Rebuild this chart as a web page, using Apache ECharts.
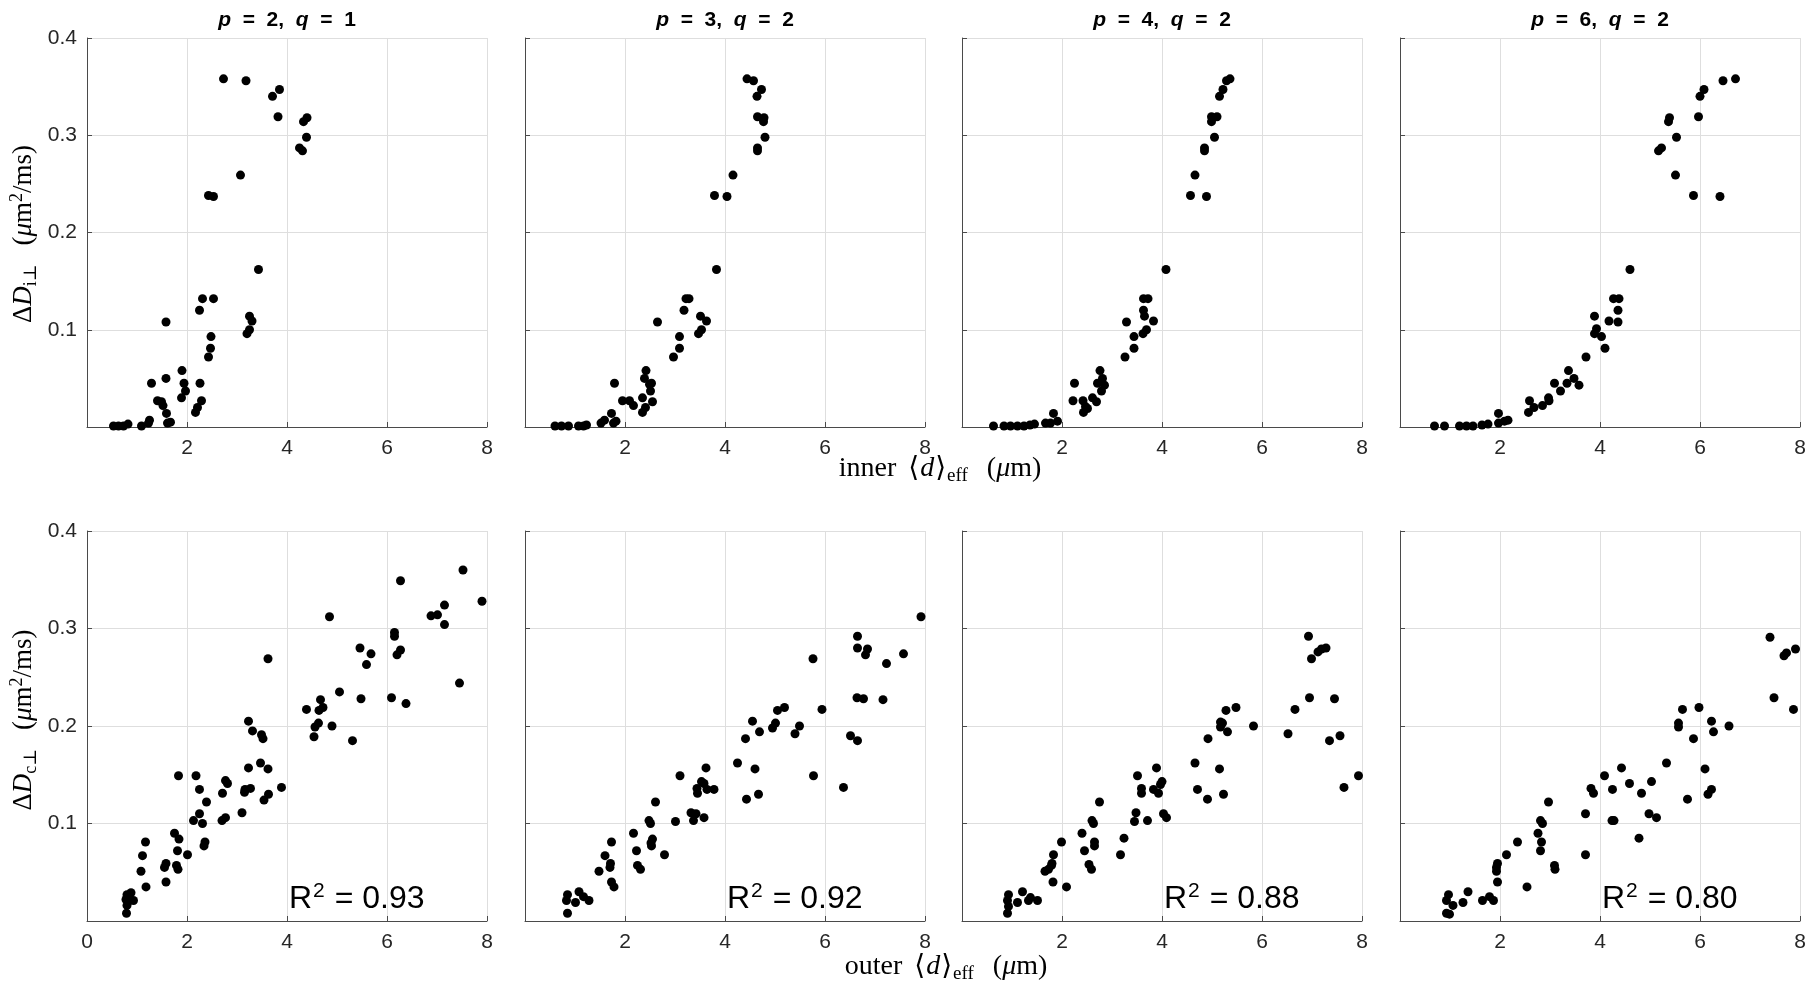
<!DOCTYPE html>
<html>
<head>
<meta charset="utf-8">
<script src="https://cdn.jsdelivr.net/npm/echarts@6/dist/echarts.min.js"></script>
<style>
  html, body { margin: 0; padding: 0; background: #fff; }
  #chart { width: 1810px; height: 995px; }
</style>
</head>
<body>
<div id="chart"></div>
<script>
// ---------- data ----------
const pValues = [2, 3, 4, 6];
const qValues = [1, 2, 2, 2];
const r2Values = ['0.93', '0.92', '0.88', '0.80'];
const xTicks = [0, 2, 4, 6, 8];
const yTicks = [0, 0.1, 0.2, 0.3, 0.4];

// top row: inner <d>_eff vs ΔD_i⊥
const innerX_p2q1 = [2.73,3.18,3.71,3.85,3.82,4.33,4.40,4.39,4.25,4.31,3.07,2.43,2.53,3.43,2.31,2.53,2.25,1.58,3.25,3.30,3.25,3.20,2.48,2.47,2.43,1.90,1.58,1.29,1.94,2.26,1.97,1.89,1.41,1.49,1.52,2.29,2.21,2.17,1.59,1.61,1.67,1.25,1.23,1.09,0.82,0.73,0.63,0.53];
const innerY_p2q1 = [0.358,0.356,0.340,0.347,0.319,0.314,0.318,0.298,0.287,0.284,0.259,0.238,0.237,0.162,0.132,0.132,0.120,0.108,0.114,0.109,0.100,0.096,0.093,0.081,0.072,0.058,0.050,0.045,0.045,0.045,0.037,0.030,0.027,0.026,0.022,0.027,0.020,0.015,0.014,0.004,0.005,0.007,0.004,0.001,0.003,0.001,0.001,0.001];

const innerX_p3q2 = [4.44,4.57,4.73,4.64,4.65,4.78,4.77,4.80,4.65,4.65,4.16,3.79,4.04,3.83,3.22,3.28,3.18,2.65,3.51,3.63,3.53,3.47,3.09,3.09,2.97,2.42,2.39,1.79,2.53,2.49,2.51,2.35,1.95,2.09,2.17,2.55,2.41,2.35,1.73,1.82,1.77,1.59,1.52,1.23,1.17,1.07,0.87,0.73,0.60];
const innerY_p3q2 = [0.358,0.356,0.347,0.340,0.319,0.318,0.314,0.298,0.287,0.284,0.259,0.238,0.237,0.162,0.132,0.132,0.120,0.108,0.114,0.109,0.100,0.096,0.093,0.081,0.072,0.058,0.050,0.045,0.045,0.044,0.037,0.030,0.027,0.027,0.022,0.026,0.020,0.015,0.014,0.006,0.004,0.007,0.004,0.002,0.001,0.001,0.001,0.001,0.001];

const innerX_p4q2 = [5.36,5.29,5.22,5.15,4.99,5.10,4.99,5.05,4.85,4.85,4.66,4.57,4.89,4.08,3.63,3.72,3.63,3.29,3.65,3.83,3.69,3.62,3.44,3.44,3.26,2.76,2.81,2.25,2.71,2.85,2.79,2.61,2.22,2.42,2.47,2.69,2.51,2.43,1.83,1.91,1.77,1.67,1.45,1.36,1.24,1.11,0.97,0.84,0.63];
const innerY_p4q2 = [0.358,0.356,0.347,0.340,0.319,0.319,0.314,0.298,0.287,0.284,0.259,0.238,0.237,0.162,0.132,0.132,0.120,0.108,0.114,0.109,0.100,0.096,0.093,0.081,0.072,0.058,0.050,0.045,0.045,0.043,0.037,0.030,0.027,0.027,0.021,0.026,0.019,0.015,0.014,0.006,0.004,0.004,0.003,0.002,0.001,0.001,0.001,0.001,0.001];

const innerX_p6q2 = [6.71,6.46,6.08,6.00,5.97,5.39,5.37,5.53,5.23,5.17,5.51,5.87,6.40,4.60,4.27,4.38,4.36,4.18,3.89,4.36,3.93,3.89,4.03,4.10,3.72,3.37,3.48,3.09,3.34,3.58,3.21,2.97,2.59,2.98,2.85,2.68,2.57,1.97,2.16,2.09,1.97,1.76,1.64,1.46,1.33,1.19,0.89,0.69];
const innerY_p6q2 = [0.358,0.356,0.347,0.340,0.319,0.318,0.314,0.298,0.287,0.284,0.259,0.238,0.237,0.162,0.132,0.132,0.120,0.109,0.114,0.108,0.101,0.096,0.093,0.081,0.072,0.058,0.050,0.045,0.045,0.043,0.037,0.030,0.027,0.027,0.022,0.020,0.015,0.014,0.007,0.006,0.004,0.003,0.002,0.001,0.001,0.001,0.001,0.001];

// bottom row: outer <d>_eff vs ΔD_c⊥
const outerX_p2q1 = [7.52,6.27,7.90,7.15,6.88,7.01,7.15,4.85,6.15,6.15,5.46,5.68,5.59,6.27,6.20,3.62,7.45,5.05,5.48,6.09,6.38,4.39,4.67,4.64,4.72,4.63,4.56,4.90,4.54,5.31,3.23,3.31,3.49,3.52,3.47,3.23,3.62,1.83,2.18,2.77,2.81,2.25,3.89,3.27,3.16,3.15,2.71,3.63,3.54,2.39,3.10,2.25,2.77,2.70,2.13,2.31,1.75,1.84,1.17,2.36,2.34,1.11,1.81,2.01,1.58,1.55,1.79,1.82,1.08,1.58,1.18,0.88,0.80,0.93,0.85,0.78,0.80,0.79];
const outerY_p2q1 = [0.360,0.349,0.328,0.324,0.313,0.314,0.304,0.312,0.296,0.292,0.280,0.274,0.263,0.278,0.273,0.269,0.244,0.235,0.228,0.229,0.223,0.217,0.227,0.216,0.219,0.203,0.199,0.200,0.189,0.185,0.205,0.195,0.191,0.187,0.162,0.157,0.156,0.149,0.149,0.144,0.141,0.135,0.137,0.136,0.135,0.132,0.131,0.130,0.124,0.122,0.111,0.110,0.106,0.103,0.103,0.100,0.090,0.084,0.081,0.081,0.077,0.067,0.072,0.068,0.059,0.055,0.057,0.053,0.051,0.040,0.035,0.029,0.027,0.021,0.021,0.022,0.016,0.008];

const outerX_p3q2 = [7.92,6.65,6.65,6.85,6.81,7.57,7.23,5.76,6.64,6.77,7.16,5.94,5.19,5.05,4.55,5.01,4.95,5.49,4.69,5.40,4.41,6.51,6.65,4.25,4.60,5.77,6.37,4.43,4.67,3.10,3.62,3.53,3.58,3.44,3.45,3.64,3.78,2.61,3.32,3.42,3.58,3.37,3.01,2.48,2.51,2.17,2.55,2.52,2.53,1.73,2.23,2.79,1.60,1.71,1.70,2.25,2.31,1.48,1.73,1.78,1.08,0.85,1.17,1.28,1.01,0.83,0.85];
const outerY_p3q2 = [0.312,0.292,0.280,0.279,0.273,0.274,0.264,0.269,0.229,0.228,0.227,0.217,0.219,0.216,0.205,0.203,0.198,0.200,0.194,0.192,0.187,0.190,0.185,0.162,0.156,0.149,0.137,0.125,0.130,0.149,0.157,0.143,0.141,0.136,0.131,0.135,0.135,0.122,0.111,0.110,0.106,0.103,0.102,0.103,0.100,0.090,0.084,0.080,0.077,0.081,0.072,0.068,0.067,0.059,0.055,0.057,0.053,0.051,0.040,0.035,0.030,0.027,0.025,0.021,0.019,0.021,0.008];

const outerX_p4q2 = [6.93,6.99,7.12,7.19,7.28,6.95,7.45,6.66,5.28,5.48,5.17,5.21,5.17,5.31,5.83,6.52,7.56,7.35,4.92,4.66,5.15,7.93,7.64,4.71,4.91,5.23,3.89,3.51,4.00,3.97,3.59,3.59,3.83,3.93,2.75,3.48,4.03,4.09,3.45,3.71,2.60,2.63,2.40,2.65,2.65,1.99,2.45,3.24,3.17,1.83,1.80,1.79,1.73,1.66,2.54,2.59,1.82,2.09,1.21,0.93,1.11,0.91,1.37,1.51,1.33,0.91,0.93];
const outerY_p4q2 = [0.292,0.269,0.276,0.279,0.280,0.229,0.228,0.217,0.216,0.219,0.204,0.203,0.199,0.194,0.200,0.192,0.190,0.185,0.187,0.162,0.156,0.149,0.137,0.135,0.125,0.130,0.157,0.149,0.143,0.140,0.136,0.131,0.135,0.131,0.122,0.111,0.110,0.106,0.102,0.103,0.103,0.100,0.090,0.081,0.077,0.081,0.072,0.085,0.068,0.068,0.059,0.057,0.053,0.051,0.058,0.053,0.040,0.035,0.030,0.027,0.019,0.021,0.024,0.021,0.021,0.008,0.015];

const outerX_p6q2 = [7.40,7.68,7.73,7.91,7.48,7.87,5.65,5.98,5.57,5.57,6.23,6.27,6.58,5.87,5.33,4.43,4.09,4.59,5.03,6.10,6.23,6.16,5.75,4.83,3.82,3.87,4.25,3.71,4.98,5.13,4.24,4.28,4.78,2.97,2.81,2.85,2.76,2.83,2.81,2.35,2.13,3.71,1.95,1.93,1.93,1.95,3.09,3.10,2.54,1.36,0.97,1.06,0.93,1.26,1.65,1.79,1.87,0.93,0.99];
const outerY_p6q2 = [0.291,0.272,0.275,0.279,0.229,0.217,0.217,0.219,0.203,0.199,0.205,0.194,0.200,0.187,0.162,0.157,0.149,0.141,0.143,0.156,0.135,0.130,0.125,0.131,0.136,0.131,0.135,0.110,0.110,0.106,0.103,0.103,0.085,0.122,0.103,0.100,0.090,0.081,0.072,0.081,0.068,0.068,0.059,0.055,0.051,0.040,0.057,0.053,0.035,0.030,0.027,0.016,0.021,0.019,0.021,0.025,0.021,0.008,0.007];

// ---------- layout ----------
const innerXs = [innerX_p2q1, innerX_p3q2, innerX_p4q2, innerX_p6q2];
const innerYs = [innerY_p2q1, innerY_p3q2, innerY_p4q2, innerY_p6q2];
const outerXs = [outerX_p2q1, outerX_p3q2, outerX_p4q2, outerX_p6q2];
const outerYs = [outerY_p2q1, outerY_p3q2, outerY_p4q2, outerY_p6q2];

const gridLefts = [87, 525, 962, 1400];
const gridW = 400;
const rowTops = [38, 531];
const rowHeights = [389, 390];

const sansFont = '"Liberation Sans", Arial, Helvetica, sans-serif';
const serifFont = '"Liberation Serif", "DejaVu Serif", "Times New Roman", serif';
const axisColor = '#4a4a4a';
const textColor = '#262626';
const gridColor = '#dedede';

const zip = (xs, ys) => xs.map((x, i) => [x, ys[i]]);

const grids = [], xAxes = [], yAxes = [], series = [];
for (let row = 0; row < 2; row++) {
  for (let col = 0; col < 4; col++) {
    const idx = row * 4 + col;
    grids.push({ left: gridLefts[col], top: rowTops[row], width: gridW, height: rowHeights[row], containLabel: false });
    const showZeroX = (row === 1 && col === 0);
    xAxes.push({
      type: 'value', gridIndex: idx, min: xTicks[0], max: xTicks[xTicks.length - 1], interval: 2,
      axisLine: { show: true, onZero: false, lineStyle: { color: axisColor, width: 1 } },
      axisTick: { show: true, inside: true, length: 5, lineStyle: { color: axisColor } },
      axisLabel: {
        show: true, color: textColor, fontSize: 21, fontFamily: sansFont, margin: 11,
        formatter: v => (v === 0 && !showZeroX) ? '' : String(v)
      },
      splitLine: { show: true, lineStyle: { color: gridColor, width: 1 } }
    });
    yAxes.push({
      type: 'value', gridIndex: idx, min: yTicks[0], max: yTicks[yTicks.length - 1], interval: 0.1,
      axisLine: { show: true, onZero: false, lineStyle: { color: axisColor, width: 1 } },
      axisTick: { show: true, inside: true, length: 5, lineStyle: { color: axisColor } },
      axisLabel: {
        show: col === 0, color: textColor, fontSize: 21, fontFamily: sansFont, margin: 10,
        formatter: v => (v === 0) ? '' : v.toFixed(1)
      },
      splitLine: { show: true, lineStyle: { color: gridColor, width: 1 } }
    });
    const xs = row === 0 ? innerXs[col] : outerXs[col];
    const ys = row === 0 ? innerYs[col] : outerYs[col];
    series.push({
      type: 'scatter', xAxisIndex: idx, yAxisIndex: idx,
      data: zip(xs, ys), symbol: 'circle', symbolSize: 9,
      itemStyle: { color: '#000', opacity: 1 }, clip: false, silent: true
    });
  }
}

// ---------- text ----------
const graphics = [];
for (let col = 0; col < 4; col++) {
  const cx = gridLefts[col] + gridW / 2;
  graphics.push({
    type: 'text', x: cx, y: 20, silent: true,
    style: {
      text: '{i|p}{b|  =  ' + pValues[col] + ',  }{i|q}{b|  =  ' + qValues[col] + '}',
      align: 'center', verticalAlign: 'middle', fill: '#000',
      rich: {
        i: { fontSize: 21, fontWeight: 'bold', fontStyle: 'italic', fontFamily: sansFont, fill: '#000' },
        b: { fontSize: 21, fontWeight: 'bold', fontFamily: sansFont, fill: '#000' }
      }
    }
  });
  graphics.push({
    type: 'text', x: gridLefts[col] + 202, y: 899, silent: true,
    style: {
      text: '{r|R}{s|2}{r| = ' + r2Values[col] + '}',
      align: 'left', verticalAlign: 'middle', fill: '#000',
      rich: {
        r: { fontSize: 32, fontFamily: sansFont, fill: '#000', lineHeight: 36 },
        s: { fontSize: 21, fontFamily: sansFont, fill: '#000', lineHeight: 10, verticalAlign: 'top', padding: [0, 1, 0, 1] }
      }
    }
  });
}

function makeRich(fs, subFs) {
  return {
    n: { fontSize: fs, fontFamily: serifFont, fill: '#000', lineHeight: fs + 5 },
    it: { fontSize: fs, fontFamily: serifFont, fontStyle: 'italic', fill: '#000', lineHeight: fs + 5 },
    br: { fontSize: fs, fontFamily: serifFont, fill: '#000', lineHeight: fs + 5, padding: [0, 1, 0, 1] },
    s1: { fontSize: fs, fontFamily: serifFont, fill: '#000', lineHeight: fs + 5, padding: [0, 2, 0, 2] },
    s2: { fontSize: fs, fontFamily: serifFont, fill: '#000', lineHeight: fs + 5, padding: [0, 6, 0, 6] },
    sub: { fontSize: subFs, fontFamily: serifFont, fill: '#000', lineHeight: 14, verticalAlign: 'bottom' },
    sup: { fontSize: subFs, fontFamily: serifFont, fill: '#000', lineHeight: 14, verticalAlign: 'top' }
  };
}
const xLabelRich = makeRich(28, 19);
const yLabelRich = makeRich(27, 18);

graphics.push({
  type: 'text', x: 940, y: 469, silent: true,
  style: { text: '{n|inner}{s1| }{br|⟨}{it|d}{br|⟩}{sub|eff}{s2| }{n|(}{it|μ}{n|m)}', align: 'center', verticalAlign: 'middle', rich: xLabelRich }
});
graphics.push({
  type: 'text', x: 946, y: 967, silent: true,
  style: { text: '{n|outer}{s1| }{br|⟨}{it|d}{br|⟩}{sub|eff}{s2| }{n|(}{it|μ}{n|m)}', align: 'center', verticalAlign: 'middle', rich: xLabelRich }
});
graphics.push({
  type: 'text', x: 24, y: 234, rotation: Math.PI / 2, silent: true,
  style: { text: '{n|Δ}{it|D}{sub|i⊥}{s2| }{n|(}{it|μ}{n|m}{sup|2}{n|/ms)}', align: 'center', verticalAlign: 'middle', rich: yLabelRich }
});
graphics.push({
  type: 'text', x: 24, y: 720, rotation: Math.PI / 2, silent: true,
  style: { text: '{n|Δ}{it|D}{sub|c⊥}{s2| }{n|(}{it|μ}{n|m}{sup|2}{n|/ms)}', align: 'center', verticalAlign: 'middle', rich: yLabelRich }
});

const chart = echarts.init(document.getElementById('chart'), null, { renderer: 'canvas' });
chart.setOption({
  backgroundColor: '#fff',
  animation: false,
  grid: grids,
  xAxis: xAxes,
  yAxis: yAxes,
  series: series,
  graphic: { elements: graphics }
});
</script>
</body>
</html>
